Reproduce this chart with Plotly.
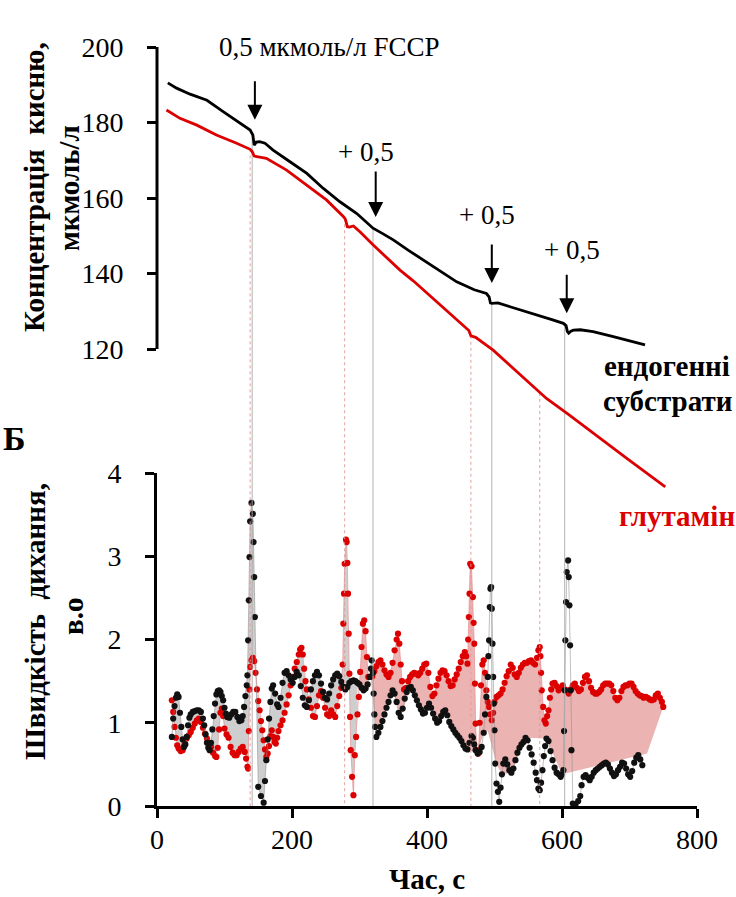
import numpy as np
import plotly.graph_objects as go

# ---------------- data ----------------
# top panel: oxygen concentration, umol/l
top_black_t = [16, 29, 49, 74, 98, 123, 138, 142, 144, 147, 152, 160, 172, 197, 222, 246, 271, 296,
               320, 335, 350, 372, 394, 420, 444, 470, 488, 492, 494, 496, 505, 523, 548, 562, 585,
               602, 606, 608, 610, 613, 617, 627, 646, 676, 700, 723]
top_black_v = [190.5, 189.1, 187.5, 185.9, 182.9, 179.8, 178.0, 176.7, 174.0, 174.8, 174.9, 174.5,
               172.7, 169.6, 166.5, 162.6, 159.0, 155.9, 152.0, 150.5, 148.9, 146.2, 143.6, 140.6,
               137.8, 135.7, 134.7, 133.8, 132.2, 132.1, 132.2, 131.2, 129.9, 129.0, 127.8, 126.8,
               126.2, 124.6, 124.2, 124.7, 125.0, 125.1, 124.6, 123.3, 122.2, 121.1]
top_red_t = [14, 34, 59, 88, 118, 138, 141, 144, 150, 162, 192, 222, 251, 276, 279, 282, 285, 291,
             301, 320, 340, 360, 380, 400, 430, 459, 462, 465, 468, 472, 498, 533, 565, 569, 577,
             610, 646, 670, 696, 725, 753]
top_red_v = [183.3, 181.1, 179.3, 176.7, 174.5, 172.9, 172.3, 171.1, 170.9, 170.5, 167.4, 163.4,
             159.5, 155.1, 154.4, 152.4, 152.3, 152.6, 151.0, 147.6, 144.3, 140.9, 138.0, 134.8,
             130.2, 125.5, 124.9, 123.5, 123.3, 123.1, 119.7, 114.0, 108.6, 108.1, 106.9, 102.6,
             97.7, 94.4, 91.0, 87.2, 83.5]

# bottom panel: respiration rate, a.u.
black_t = [22, 24, 26, 28, 30, 32, 34, 36, 38, 40, 42, 44, 46, 48, 50, 53, 56, 59, 62, 65, 68, 70, 72,
           74, 76, 78, 80, 82, 84, 86, 88, 90, 92, 94, 96, 98, 100, 102, 104, 107, 110, 113, 116, 119,
           122, 125, 127, 129, 131, 133, 134, 135, 136, 137, 138, 140, 142, 143, 144, 145, 150, 154,
           158, 160, 162, 164, 166, 168, 170, 172, 175, 178, 180, 183, 186, 189, 192, 195, 198, 201,
           204, 207, 210, 213, 216, 219, 222, 225, 228, 231, 234, 237, 240, 243, 246, 249, 252, 255,
           258, 261, 264, 267, 270, 273, 276, 279, 282, 285, 288, 291, 294, 297, 300, 303, 306, 309,
           312, 315, 317, 318, 320, 321, 322, 323, 325, 328, 331, 334, 337, 340, 343, 346, 349, 352,
           355, 358, 361, 364, 367, 370, 373, 376, 379, 382, 385, 388, 391, 394, 397, 400, 403, 406,
           409, 412, 415, 418, 421, 424, 427, 430, 433, 436, 439, 442, 445, 448, 451, 454, 457, 460,
           463, 466, 468, 470, 472, 475, 478, 481, 484, 486, 488, 490, 491, 492, 493, 494, 495, 496,
           497, 498, 499, 500, 501, 503, 505, 507, 509, 511, 513, 516, 519, 522, 525, 528, 531, 534,
           537, 540, 543, 546, 549, 552, 555, 558, 561, 563, 565, 567, 569, 571, 573, 575, 577, 580,
           583, 586, 589, 592, 595, 598, 600, 602, 603, 604, 605, 606, 607, 609, 610, 611, 612, 613,
           614, 616, 620, 624, 627, 629, 632, 635, 638, 641, 644, 647, 650, 653, 656, 659, 662, 665,
           668, 671, 674, 677, 680, 683, 686, 689, 692, 695, 698, 701, 704, 707, 710, 713, 716, 719]
black_v = [0.83, 1.05, 1.2, 1.30, 1.34, 1.31, 1.12, 0.95, 0.80, 0.71, 0.74, 0.83, 0.97, 1.06, 1.10,
           1.13, 1.14, 1.15, 1.15, 1.13, 1.05, 0.97, 0.86, 0.76, 0.70, 0.67, 0.76, 0.92, 1.08, 1.23,
           1.34, 1.38, 1.39, 1.37, 1.32, 1.27, 1.18, 1.11, 1.07, 1.06, 1.10, 1.13, 1.13, 1.07, 1.02,
           1.03, 1.08, 1.19, 1.32, 1.45, 1.57, 1.99, 2.47, 2.99, 3.42, 3.64, 3.51, 3.17, 2.75, 2.27,
           0.23, 0.12, 0.04, 0.30, 0.55, 0.80, 1.05, 1.25, 1.41, 1.45, 1.35, 1.22, 1.19, 1.30, 1.48,
           1.60, 1.62, 1.57, 1.52, 1.48, 1.55, 1.61, 1.57, 1.44, 1.30, 1.21, 1.19, 1.27, 1.40, 1.50,
           1.57, 1.61, 1.57, 1.47, 1.37, 1.30, 1.28, 1.35, 1.45, 1.52, 1.57, 1.59, 1.56, 1.49, 1.43,
           1.40, 1.43, 1.48, 1.50, 1.51, 1.50, 1.48, 1.46, 1.42, 1.39, 1.41, 1.46, 1.55, 1.65, 1.75,
           1.60, 1.35, 1.10, 0.95, 0.83, 0.88, 0.95, 1.02, 1.10, 1.18, 1.25, 1.33, 1.39, 1.35, 1.25,
           1.12, 1.07, 1.17, 1.29, 1.37, 1.42, 1.43, 1.39, 1.33, 1.27, 1.21, 1.16, 1.11, 1.12, 1.18,
           1.23, 1.18, 1.11, 1.05, 1.00, 1.02, 1.08, 1.13, 1.15, 1.09, 1.01, 0.96, 0.92, 0.88, 0.85,
           0.82, 0.78, 0.73, 0.69, 0.68, 0.76, 0.84, 0.82, 0.74, 0.67, 0.63, 0.65, 0.71, 0.88, 1.10,
           1.31, 1.55, 1.80, 1.99, 2.39, 2.61, 2.63, 2.37, 1.95, 1.55, 1.23, 0.91, 0.51, 0.27, 0.17,
           0.05, 0.22, 0.38, 0.51, 0.56, 0.50, 0.43, 0.40, 0.45, 0.55, 0.64, 0.70, 0.74, 0.77, 0.82,
           0.79, 0.70, 0.62, 0.52, 0.40, 0.31, 0.21, 0.19, 0.28, 0.43, 0.60, 0.72, 0.81, 0.78, 0.66,
           0.55, 0.46, 0.40, 0.38, 0.35, 0.38, 0.43, 0.9, 1.39, 1.99, 2.45, 2.81, 2.95, 2.75, 2.41,
           1.93, 1.39, 0.67, 0.03, 0.02, 0.06, 0.12, 0.25, 0.35, 0.37, 0.34, 0.31, 0.35, 0.40, 0.43,
           0.45, 0.47, 0.49, 0.51, 0.52, 0.50, 0.45, 0.40, 0.36, 0.38, 0.43, 0.47, 0.52, 0.51, 0.45,
           0.38, 0.35, 0.42, 0.52, 0.58, 0.61, 0.56, 0.49]

red_t = [22, 24, 26, 28, 30, 32, 35, 38, 41, 44, 47, 50, 53, 56, 59, 62, 65, 68, 71, 74, 77, 80, 83,
         86, 88, 90, 92, 94, 96, 98, 100, 103, 106, 109, 112, 115, 118, 121, 124, 127, 130, 132, 134,
         135, 136, 137, 138, 140, 142, 144, 146, 148, 150, 152, 154, 156, 158, 160, 162, 164, 166,
         168, 170, 172, 174, 176, 178, 180, 183, 186, 189, 192, 195, 198, 201, 204, 207, 210, 212,
         214, 216, 218, 220, 222, 225, 228, 231, 234, 237, 240, 243, 246, 249, 252, 255, 258, 261,
         264, 267, 270, 273, 275, 276, 277, 278, 280, 281, 282, 283, 284, 285, 286, 287, 289, 291,
         293, 295, 297, 299, 301, 303, 305, 307, 309, 311, 313, 316, 319, 322, 325, 328, 331, 334,
         337, 340, 343, 346, 349, 352, 355, 357, 359, 361, 363, 366, 369, 372, 375, 378, 381, 384,
         387, 390, 393, 396, 399, 402, 405, 408, 411, 414, 417, 420, 423, 426, 429, 432, 435, 438,
         441, 444, 447, 450, 453, 456, 458, 460, 461, 462, 463, 464, 466, 468, 469, 470, 471, 472,
         474, 476, 478, 480, 482, 484, 486, 488, 490, 492, 494, 496, 498, 500, 503, 506, 509, 512,
         515, 518, 521, 524, 527, 530, 533, 536, 539, 542, 545, 548, 551, 554, 557, 560, 563, 565,
         567, 568, 569, 570, 572, 574, 576, 578, 580, 582, 584, 586, 589, 592, 595, 598, 601, 604,
         607, 610, 613, 616, 619, 622, 625, 628, 631, 634, 637, 640, 643, 646, 649, 652, 655, 658,
         661, 664, 667, 670, 673, 676, 679, 682, 685, 688, 691, 694, 697, 700, 703, 706, 709, 712,
         715, 718, 721, 724, 727, 730, 733, 736, 739, 742, 745, 748, 750]
red_v = [1.27, 1.13, 0.95, 0.82, 0.73, 0.69, 0.66, 0.67, 0.74, 0.81, 0.85, 0.89, 0.94, 0.99, 1.03,
         1.05, 1.01, 0.94, 0.87, 0.81, 0.76, 0.71, 0.64, 0.60, 0.59, 0.70, 0.92, 1.12, 1.17, 1.08,
         0.93, 0.86, 0.82, 0.71, 0.64, 0.61, 0.61, 0.65, 0.69, 0.71, 0.65, 0.57, 0.47, 0.45, 0.90,
         1.40, 1.67, 1.75, 1.78, 1.74, 1.60, 1.40, 1.26, 1.15, 1.02, 0.91, 0.79, 0.68, 0.59, 0.63,
         0.72, 0.84, 0.91, 0.83, 0.77, 0.75, 0.82, 0.90, 0.97, 1.03, 1.12, 1.22, 1.33, 1.45, 1.55,
         1.65, 1.73, 1.82, 1.88, 1.90, 1.82, 1.65, 1.50, 1.40, 1.28, 1.18, 1.08, 1.07, 1.20, 1.33,
         1.38, 1.30, 1.18, 1.10, 1.08, 1.15, 1.10, 1.07, 1.20, 1.32, 1.42, 1.70, 2.19, 2.55, 2.91,
         3.20, 3.17, 2.92, 2.55, 2.07, 1.59, 1.07, 0.67, 0.35, 0.13, 0.61, 0.83, 1.10, 1.31, 1.61,
         1.91, 2.19, 2.23, 2.10, 1.79, 1.55, 1.55, 1.56, 1.62, 1.68, 1.73, 1.75, 1.70, 1.63, 1.58,
         1.55, 1.60, 1.72, 1.87, 2.00, 2.07, 1.95, 1.70, 1.50, 1.40, 1.42, 1.50, 1.55, 1.58, 1.60,
         1.59, 1.57, 1.60, 1.65, 1.70, 1.71, 1.60, 1.43, 1.32, 1.35, 1.45, 1.53, 1.60, 1.63, 1.62,
         1.57, 1.50, 1.44, 1.45, 1.52, 1.58, 1.65, 1.73, 1.80, 1.85, 1.80, 1.71, 2.00, 2.27, 2.55,
         2.91, 2.88, 2.51, 2.20, 1.95, 1.47, 0.99, 0.67, 0.63, 1.00, 1.45, 1.70, 1.75, 1.60, 1.39,
         1.25, 1.19, 1.10, 1.03, 1.12, 1.25, 1.31, 1.33, 1.35, 1.40, 1.48, 1.56, 1.62, 1.70, 1.66,
         1.58, 1.55, 1.60, 1.66, 1.70, 1.72, 1.72, 1.74, 1.75, 1.72, 1.70, 1.78, 1.87, 1.91, 1.80,
         1.60, 1.39, 1.19, 1.03, 0.99, 1.08, 1.15, 1.30, 1.40, 1.47, 1.48, 1.44, 1.39, 1.42, 1.45,
         1.40, 1.39, 1.35, 1.40, 1.45, 1.47, 1.42, 1.38, 1.40, 1.48, 1.55, 1.57, 1.50, 1.42, 1.37,
         1.35, 1.35, 1.37, 1.40, 1.45, 1.47, 1.47, 1.47, 1.45, 1.38, 1.30, 1.27, 1.30, 1.38, 1.43,
         1.45, 1.45, 1.47, 1.47, 1.43, 1.38, 1.35, 1.33, 1.32, 1.30, 1.31, 1.30, 1.28, 1.27, 1.28,
         1.33, 1.35, 1.30, 1.25, 1.19]

# lower edge of the pink shaded band
pink_low_t = [299, 306, 312, 316, 322, 325, 337, 349, 361, 376, 394, 403, 415, 427, 460, 475, 484,
              490, 503, 511, 525, 546, 577, 600, 726, 750]
pink_low_v = [1.47, 1.39, 1.46, 1.60, 1.10, 0.83, 1.10, 1.39, 1.07, 1.43, 1.11, 1.23, 1.00, 1.15,
              0.68, 0.63, 0.88, 0.90, 0.50, 0.38, 0.40, 0.82, 0.81, 0.38, 0.63, 1.19]

# FCCP additions (s)
events_black = [141, 320, 496, 604]
events_red = [138, 278, 465, 567]
arrow_t = [145, 324, 496, 607]
arrow_v = [180.7, 155.0, 137.5, 129.5]
arrow_len = [40, 47, 40, 40]
arrow_text = ["0,5 мкмоль/л FCCP", "+ 0,5", "+ 0,5", "+ 0,5"]

# ---------------- layout geometry ----------------
W, H = 736, 897
ML, MR, MT, MB = 157, 39, 40, 91
PW, PH = W - ML - MR, H - MT - MB
# top axis: 200 at y=47px, 120 at y=349px
k = (349 - 47) / 80.0
Y2_MAX = 200 + (47 - MT) / k
Y2_MIN = 120 - (H - MB - 349) / k
BOT_TOP = 473  # px of value 4 on bottom axis


def px(xp):
    return (xp - ML) / PW


def py(yp):
    return (H - MB - yp) / PH


FONT = "Liberation Serif"
BLACK = "#000000"
RED = "#dc0000"

fig = go.Figure()

# gray band (black above red) for the first part
bt = np.array(black_t); bv = np.array(black_v)
rt = np.array(red_t); rv = np.array(red_v)
mb = bt <= 298
mr = rt <= 298
fig.add_trace(go.Scatter(
    x=list(bt[mb]) + list(rt[mr][::-1]), y=list(bv[mb]) + list(rv[mr][::-1]),
    fill="toself", fillcolor="rgba(190,190,190,0.75)", line=dict(width=0),
    mode="lines", hoverinfo="skip", xaxis="x", yaxis="y"))

# pink band (red above black)
mr2 = rt >= 299
fig.add_trace(go.Scatter(
    x=list(rt[mr2]) + pink_low_t[::-1], y=list(rv[mr2]) + pink_low_v[::-1],
    fill="toself", fillcolor="rgba(224,128,128,0.6)", line=dict(width=0),
    mode="lines", hoverinfo="skip", xaxis="x", yaxis="y"))

# drop lines from the top curves
for t in events_red:
    v = float(np.interp(t, top_red_t, top_red_v))
    fig.add_trace(go.Scatter(x=[t, t], y=[v, Y2_MIN], mode="lines",
                             line=dict(color="rgba(225,150,150,0.9)", width=1, dash="dot"),
                             hoverinfo="skip", xaxis="x", yaxis="y2"))
for t in events_black:
    v = float(np.interp(t, top_black_t, top_black_v))
    fig.add_trace(go.Scatter(x=[t, t], y=[v, Y2_MIN], mode="lines",
                             line=dict(color="rgba(170,170,170,0.9)", width=1),
                             hoverinfo="skip", xaxis="x", yaxis="y2"))

# bottom scatter series
fig.add_trace(go.Scatter(x=red_t, y=red_v, mode="lines+markers",
                         line=dict(color="rgba(230,120,120,0.55)", width=1),
                         marker=dict(color=RED, size=6.2),
                         xaxis="x", yaxis="y"))
fig.add_trace(go.Scatter(x=black_t, y=black_v, mode="lines+markers",
                         line=dict(color="rgba(140,140,140,0.55)", width=1),
                         marker=dict(color="#111111", size=6.2),
                         xaxis="x", yaxis="y"))

# top curves
fig.add_trace(go.Scatter(x=top_black_t, y=top_black_v, mode="lines",
                         line=dict(color=BLACK, width=2.8), xaxis="x", yaxis="y2"))
fig.add_trace(go.Scatter(x=top_red_t, y=top_red_v, mode="lines",
                         line=dict(color=RED, width=2.8), xaxis="x", yaxis="y2"))

tickfont = dict(family=FONT, size=28, color=BLACK)
fig.update_layout(
    width=W, height=H, autosize=False,
    margin=dict(l=ML, r=MR, t=MT, b=MB, pad=0),
    paper_bgcolor="white", plot_bgcolor="rgba(0,0,0,0)",
    showlegend=False,
    font=dict(family=FONT),
    xaxis=dict(range=[0, 800], tickvals=[0, 200, 400, 600, 800], showline=True, linewidth=3,
               linecolor=BLACK, ticks="outside", ticklen=9, tickwidth=3, tickcolor=BLACK,
               showgrid=False, zeroline=False, tickfont=tickfont, ticklabelstandoff=-3,
               anchor="y"),
    yaxis=dict(domain=[0, (H - MB - BOT_TOP) / PH], range=[0, 4], tickvals=[0, 1, 2, 3, 4],
               showline=True, linewidth=3, linecolor=BLACK, ticks="outside", ticklen=9,
               tickwidth=3, tickcolor=BLACK, showgrid=False, zeroline=False,
               tickfont=tickfont, ticklabelstandoff=18, anchor="x"),
    yaxis2=dict(domain=[0, 1], range=[Y2_MIN, Y2_MAX], tickvals=[120, 140, 160, 180, 200],
                showline=False, ticks="outside", ticklen=9, tickwidth=3, tickcolor=BLACK,
                showgrid=False, zeroline=False, tickfont=tickfont, ticklabelstandoff=18,
                anchor="x"),
)

# spine of the top axis (only between 120 and 200)
fig.add_shape(type="line", xref="paper", yref="y2", x0=0, x1=0, y0=120, y1=200,
              line=dict(color=BLACK, width=3))

ann = []
bold = dict(family=FONT, size=29, color=BLACK)
ann.append(dict(text="<b>Концентрація  кисню,</b>", x=px(34), y=py(187), textangle=-90, font=bold))
ann.append(dict(text="<b>мкмоль/л</b>", x=px(69), y=py(188), textangle=-90, font=bold))
ann.append(dict(text="<b>Швидкість  дихання,</b>", x=px(35), y=py(622), textangle=-90, font=bold))
ann.append(dict(text="<b>в.о</b>", x=px(73), y=py(617), textangle=-90, font=bold))
ann.append(dict(text="<b>Б</b>", x=px(1), y=py(438), xanchor="left",
                font=dict(family=FONT, size=34, color=BLACK)))
ann.append(dict(text="<b>ендогенні</b>", x=px(667), y=py(366), font=bold))
ann.append(dict(text="<b>субстрати</b>", x=px(667), y=py(401), font=bold))
ann.append(dict(text="<b>глутамін</b>", x=px(677), y=py(516), font=dict(family=FONT, size=29, color=RED)))
ann.append(dict(text="<b>Час, с</b>", x=px(427), y=py(879), font=bold))
label_pos = [(329, 47), (366, 152), (487, 215), (572, 250)]
for txt, (lx, ly) in zip(arrow_text, label_pos):
    ann.append(dict(text=txt, x=px(lx), y=py(ly), font=dict(family=FONT, size=27, color=BLACK)))
for a in ann:
    a.update(xref="paper", yref="paper", showarrow=False,
             xanchor=a.get("xanchor", "center"), yanchor="middle")
for t, v, L in zip(arrow_t, arrow_v, arrow_len):
    ann.append(dict(x=t, y=v, xref="x", yref="y2", text="", showarrow=True, ax=0, ay=-L,
                    arrowhead=2, arrowsize=1.5, arrowwidth=2, arrowcolor=BLACK))
fig.update_layout(annotations=ann)

fig.write_html("out.html")
